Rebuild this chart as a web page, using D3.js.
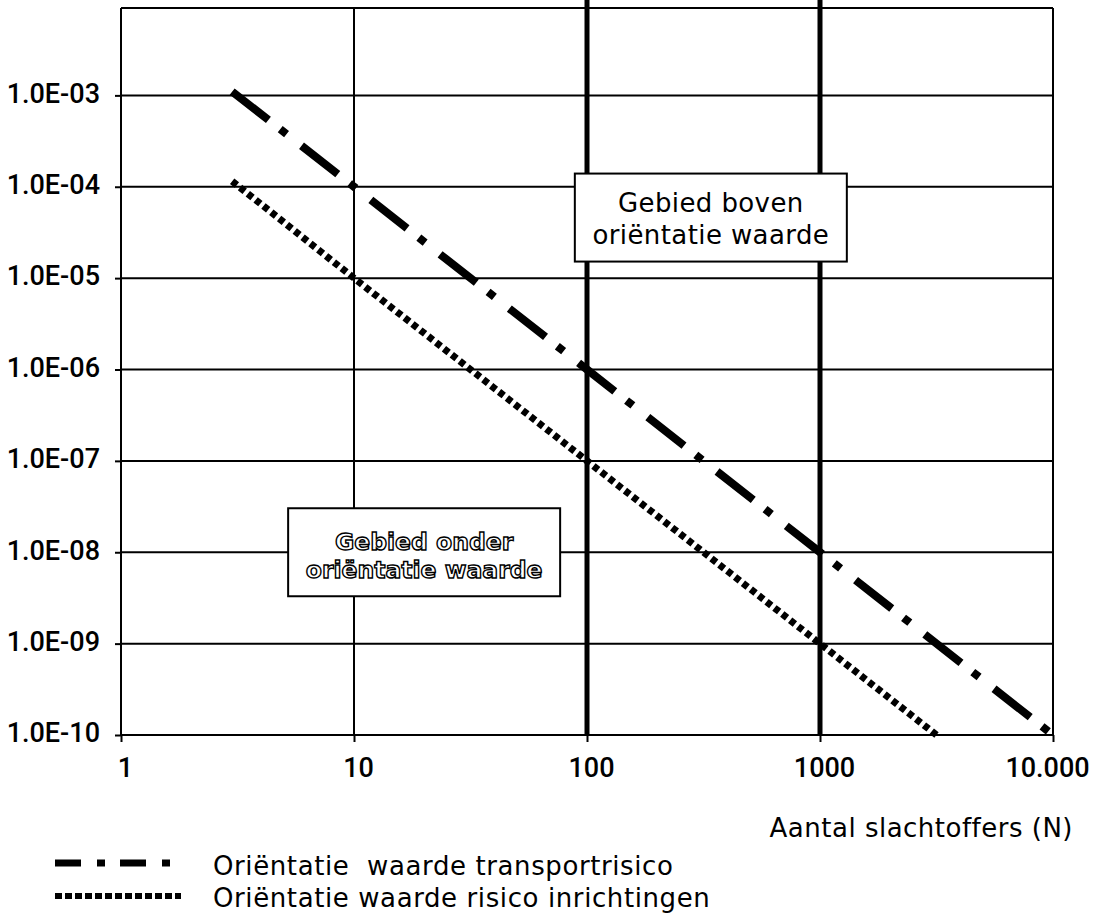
<!DOCTYPE html>
<html>
<head>
<meta charset="utf-8">
<script src="https://cdn.jsdelivr.net/npm/d3@7"></script>
<style>
  body { margin: 0; background: #fff; }
  text { font-family: "DejaVu Sans", sans-serif; fill: #000; }
  .tick text { font-family: Roboto, "DejaVu Sans", sans-serif; font-weight: 500; }
</style>
</head>
<body>
<div id="chart"></div>
<script>
// values
const yTickValues = [1e-3, 1e-4, 1e-5, 1e-6, 1e-7, 1e-8, 1e-9, 1e-10];
const yTickLabels = ["1.0E-03", "1.0E-04", "1.0E-05", "1.0E-06", "1.0E-07", "1.0E-08", "1.0E-09", "1.0E-10"];
const xTickValues = [1, 10, 100, 1000, 10000];
const xTickLabels = ["1", "10", "100", "1000", "10.000"];
const thickLines = [100, 1000];

const transportN = [3, 10, 100, 1000, 10000];
const transportF = [1.1e-3, 1e-4, 1e-6, 1e-8, 1e-10];
const inrichtingN = [3, 10, 100, 1000, 3162];
const inrichtingF = [1.15e-4, 1e-5, 1e-7, 1e-9, 1e-10];

const boxLabels = [
  { n: 340, f: 4.6e-5, lines: ["Gebied boven", "oriëntatie waarde"], outline: false },
  { n: 20, f: 1.0e-8, lines: ["Gebied onder", "oriëntatie waarde"], outline: true }
];
const xTitle = "Aantal slachtoffers (N)";
const legendLabels = ["Oriëntatie  waarde transportrisico", "Oriëntatie waarde risico inrichtingen"];

const W = 1098, H = 914;
const frame = { left: 121, right: 1053, top: 8, bottom: 735 };

const svg = d3.select("#chart").append("svg")
  .attr("width", W)
  .attr("height", H);

const x = d3.scaleLog().domain([1, 10000]).range([frame.left, frame.right]);
const y = d3.scaleLog().domain([1e-10, 1e-2]).range([frame.bottom, 4]);

// horizontal grid lines
svg.append("g")
  .selectAll("line")
  .data(yTickValues)
  .enter()
  .append("line")
  .attr("x1", frame.left)
  .attr("x2", frame.right)
  .attr("y1", (d) => y(d))
  .attr("y2", (d) => y(d))
  .attr("stroke", "#000")
  .attr("stroke-width", 2);

// thin vertical grid lines + frame
svg.append("g")
  .selectAll("line")
  .data([1, 10, 10000])
  .enter()
  .append("line")
  .attr("x1", (d) => x(d))
  .attr("x2", (d) => x(d))
  .attr("y1", frame.top)
  .attr("y2", frame.bottom)
  .attr("stroke", "#000")
  .attr("stroke-width", 2);

svg.append("line")
  .attr("x1", frame.left)
  .attr("x2", frame.right)
  .attr("y1", frame.top)
  .attr("y2", frame.top)
  .attr("stroke", "#000")
  .attr("stroke-width", 2);

// thick vertical lines at N = 100 and N = 1000
svg.append("g")
  .selectAll("line")
  .data(thickLines)
  .enter()
  .append("line")
  .attr("x1", (d) => x(d))
  .attr("x2", (d) => x(d))
  .attr("y1", 0)
  .attr("y2", frame.bottom)
  .attr("stroke", "#000")
  .attr("stroke-width", 5);

// axes
const yAxis = svg.append("g")
  .attr("transform", `translate(${frame.left},0)`)
  .call(d3.axisLeft(y)
    .tickValues(yTickValues)
    .tickFormat((d, i) => yTickLabels[i])
    .tickSize(6)
    .tickPadding(15));
yAxis.select(".domain").remove();
yAxis.selectAll(".tick line").attr("stroke-width", 2);
yAxis.selectAll(".tick text")
  .attr("font-size", 27)
  .attr("dy", "0.25em");

const xAxis = svg.append("g")
  .attr("transform", `translate(0,${frame.bottom})`)
  .call(d3.axisBottom(x)
    .tickValues(xTickValues)
    .tickFormat((d, i) => xTickLabels[i])
    .tickSize(7)
    .tickPadding(16));
xAxis.select(".domain").remove();
xAxis.selectAll(".tick line").attr("stroke-width", 2);
xAxis.selectAll(".tick text")
  .attr("font-size", 27)
  .attr("dx", (d, i) => (i === xTickLabels.length - 1 ? -6 : 4));

svg.append("text")
  .attr("x", 1073)
  .attr("y", 837)
  .attr("text-anchor", "end")
  .attr("font-size", 26)
  .attr("letter-spacing", 0.5)
  .text(xTitle);

// boxes
boxLabels.forEach((b) => {
  const cx = x(b.n), cy = y(b.f);
  const g = svg.append("g");
  g.append("rect")
    .attr("x", cx - 136)
    .attr("y", cy - 44)
    .attr("width", 272)
    .attr("height", 88)
    .attr("fill", "#fff")
    .attr("stroke", "#000")
    .attr("stroke-width", 2);
  const txt = g.append("text")
    .attr("text-anchor", "middle")
    .attr("font-size", b.outline ? 23.5 : 26)
    .attr("letter-spacing", b.outline ? 0 : 0.4);
  txt.selectAll("tspan")
    .data(b.lines)
    .enter()
    .append("tspan")
    .attr("x", cx)
    .attr("y", (d, i) => b.outline ? cy + (i === 0 ? -2 : 26) : cy + (i === 0 ? -6 : 26))
    .text((d) => d);
  if (b.outline) {
    txt.style("fill", "#fff")
      .attr("stroke", "#000")
      .attr("stroke-width", 1.4)
      .attr("font-weight", 700);
  }
});

// risk lines
const line = d3.line()
  .x((d) => x(d[0]))
  .y((d) => y(d[1]));

svg.append("path")
  .attr("d", line(d3.zip(inrichtingN, inrichtingF)))
  .attr("fill", "none")
  .attr("stroke", "#000")
  .attr("stroke-width", 7)
  .attr("stroke-dasharray", "6,4");

svg.append("path")
  .attr("d", line(d3.zip(transportN, transportF)))
  .attr("fill", "none")
  .attr("stroke", "#000")
  .attr("stroke-width", 8)
  .attr("stroke-dasharray", "46,15,8,19");

// legend
const legend = svg.append("g");
legend.append("line")
  .attr("x1", 55).attr("x2", 172)
  .attr("y1", 863).attr("y2", 863)
  .attr("stroke", "#000")
  .attr("stroke-width", 7)
  .attr("stroke-dasharray", "26,16,8,15");
legend.append("line")
  .attr("x1", 55).attr("x2", 181)
  .attr("y1", 896).attr("y2", 896)
  .attr("stroke", "#000")
  .attr("stroke-width", 6)
  .attr("stroke-dasharray", "7,3");
legend.selectAll("text")
  .data(legendLabels)
  .enter()
  .append("text")
  .attr("x", 213)
  .attr("y", (d, i) => 875 + i * 32)
  .attr("font-size", 26)
  .attr("letter-spacing", 0.6)
  .style("white-space", "pre")
  .text((d) => d);
</script>
</body>
</html>
